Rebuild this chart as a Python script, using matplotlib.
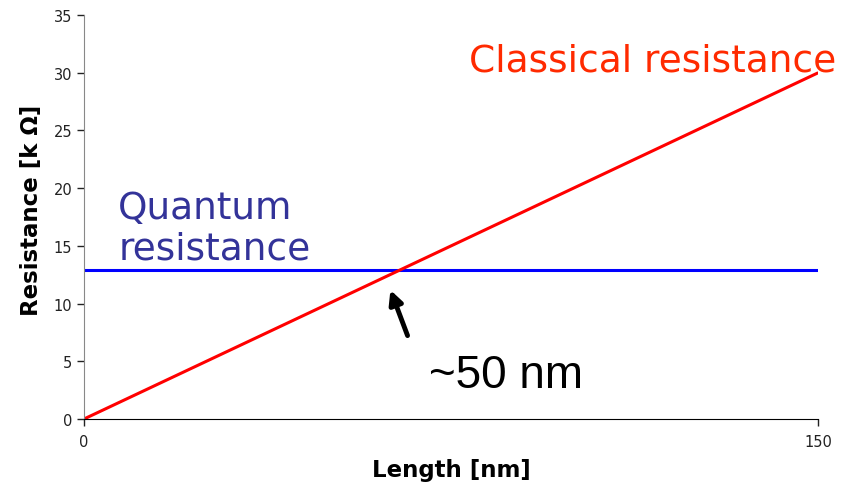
import numpy as np
import matplotlib.pyplot as plt

# lengths in nm, resistances in kOhm
length = [0, 150]
classical = [0, 30]
quantum = [12.9, 12.9]
yticks = [0, 5, 10, 15, 20, 25, 30, 35]
xticks = [0, 150]

fig = plt.figure(figsize=(8.44, 4.85), dpi=100)
ax = fig.add_axes([0.0995, 0.134, 0.8700, 0.833])

ax.plot(length, quantum, color='#0000ff', lw=2.2, solid_capstyle='butt')
ax.plot(length, classical, color='#ff0000', lw=2.2, solid_capstyle='butt')

ax.set_xlim(0, 150)
ax.set_ylim(0, 35)
ax.set_xticks(xticks)
ax.set_yticks(yticks)
ax.tick_params(labelsize=10.5, length=5, width=1, colors='#222222')
ax.tick_params(axis='x', pad=6)

for side in ['top', 'right']:
    ax.spines[side].set_visible(False)
ax.spines['left'].set_color('#888888')
ax.spines['bottom'].set_color('black')

ax.set_xlabel('Length [nm]', fontsize=16.5, fontweight='bold', labelpad=6)
ax.set_ylabel('Resistance [k Ω]', fontsize=16.5, fontweight='bold')
ax.yaxis.set_label_coords(-0.056, 0.52)

ax.text(153.6, 30.15, 'Classical resistance', color='#ff2a00', fontsize=27,
        ha='right', va='baseline', family='DejaVu Sans', clip_on=False)
ax.text(7, 13.9, 'Quantum\nresistance', color='#333399', fontsize=27,
        ha='left', va='baseline', linespacing=1.17, family='DejaVu Sans')
ax.text(70.5, 2.75, '~50 nm', color='black', fontsize=33,
        ha='left', va='baseline', family='Liberation Sans')

ax.annotate('', xy=(62.4, 11.4), xytext=(66.3, 7.0),
            arrowprops=dict(arrowstyle='-|>,head_width=0.4,head_length=0.8',
                            color='black', lw=3.5))

fig.savefig('out.png', dpi=100)
